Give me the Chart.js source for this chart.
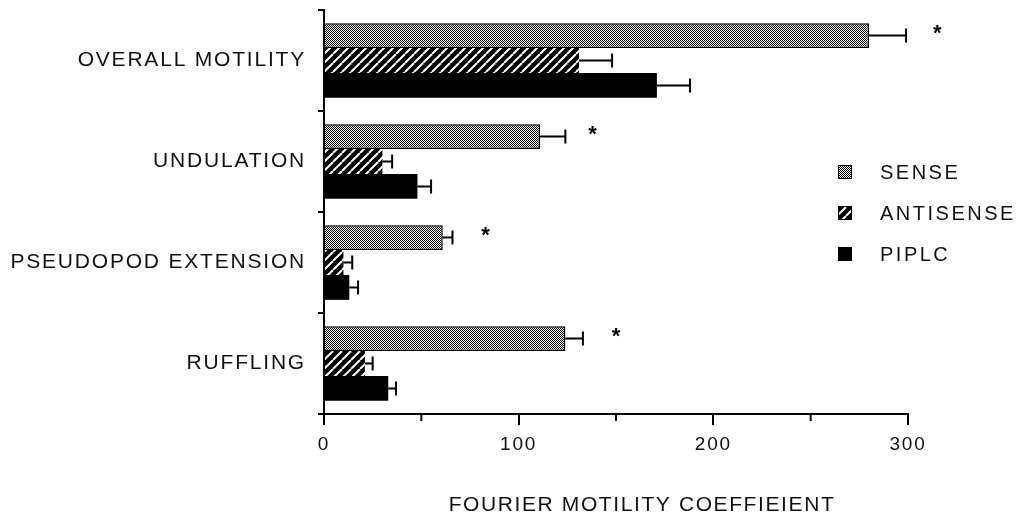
<!DOCTYPE html>
<html>
<head>
<meta charset="utf-8">
<script src="https://cdn.jsdelivr.net/npm/chart.js@4.4.0/dist/chart.umd.min.js"></script>
<style>
  html, body { margin: 0; padding: 0; background: #fff; }
  canvas { display: block; }
</style>
</head>
<body>
<canvas id="motility-chart" width="1016" height="517"></canvas>
<script>
const categories = ['OVERALL MOTILITY', 'UNDULATION', 'PSEUDOPOD EXTENSION', 'RUFFLING'];
const seriesNames = ['SENSE', 'ANTISENSE', 'PIPLC'];
const senseValues = [280, 111, 61, 124];
const senseErrors = [19, 13, 5, 9];
const antisenseValues = [131, 30, 10, 21];
const antisenseErrors = [17, 5, 4.5, 4];
const piplcValues = [171, 48, 13, 33];
const piplcErrors = [17, 7, 4.5, 4];
// x positions of the significance marks
const significanceX = [315, 138, 83, 150];
const minorTicks = [50, 150, 250];
const axisTitle = 'FOURIER MOTILITY COEFFIEIENT';

const canvas = document.getElementById('motility-chart');
const ctx = canvas.getContext('2d');

function stipplePattern() {
    const c = document.createElement('canvas');
    c.width = 2; c.height = 2;
    const g = c.getContext('2d');
    g.fillStyle = '#fff'; g.fillRect(0, 0, 2, 2);
    g.fillStyle = '#000';
    g.fillRect(0, 0, 1, 1);
    g.fillRect(1, 1, 1, 1);
    return ctx.createPattern(c, 'repeat');
}

function hatchPattern() {
    const s = 9;
    const c = document.createElement('canvas');
    c.width = s; c.height = s;
    const g = c.getContext('2d');
    g.fillStyle = '#000'; g.fillRect(0, 0, s, s);
    g.strokeStyle = '#fff'; g.lineWidth = 2;
    [-s, 0, s].forEach(k => {
        g.beginPath(); g.moveTo(k, s); g.lineTo(k + s, 0); g.stroke();
    });
    return ctx.createPattern(c, 'repeat');
}

const fills = [stipplePattern(), hatchPattern(), '#000'];

const overlay = {
    id: 'overlay',
    beforeDraw(chart) {
        chart.ctx.letterSpacing = '1.8px';
    },
    afterDatasetsDraw(chart) {
        const c = chart.ctx;
        const x = chart.scales.x;
        c.save();
        c.strokeStyle = '#000';
        c.lineWidth = 2;
        // error bars (positive side only)
        chart.data.datasets.forEach((ds, di) => {
            chart.getDatasetMeta(di).data.forEach((bar, i) => {
                const x0 = x.getPixelForValue(ds.data[i]);
                const x1 = x.getPixelForValue(ds.data[i] + ds.errors[i]);
                const cap = bar.height * 0.28;
                c.beginPath();
                c.moveTo(x0, bar.y); c.lineTo(x1, bar.y);
                c.moveTo(x1, bar.y - cap); c.lineTo(x1, bar.y + cap);
                c.stroke();
            });
        });
        // significance marks next to the SENSE bars
        c.fillStyle = '#000';
        c.font = 'bold 22px "Liberation Sans", Arial, sans-serif';
        c.textAlign = 'center';
        c.textBaseline = 'top';
        c.letterSpacing = '0px';
        chart.getDatasetMeta(0).data.forEach((bar, i) => {
            c.fillText('*', x.getPixelForValue(significanceX[i]), bar.y - bar.height / 2);
        });
        c.restore();
    },
    afterDraw(chart) {
        const c = chart.ctx;
        const x = chart.scales.x;
        const area = chart.chartArea;
        c.save();
        // minor ticks on the x axis
        c.strokeStyle = '#000';
        c.lineWidth = 2;
        minorTicks.forEach(v => {
            const px = x.getPixelForValue(v);
            c.beginPath(); c.moveTo(px, area.bottom); c.lineTo(px, area.bottom + 7); c.stroke();
        });
        // legend
        c.font = '20px "Liberation Sans", Arial, sans-serif';
        c.letterSpacing = '2.5px';
        c.textBaseline = 'middle';
        c.textAlign = 'left';
        c.lineWidth = 1;
        chart.data.datasets.forEach((ds, i) => {
            const cy = 172 + i * 41;
            c.fillStyle = ds.backgroundColor;
            c.fillRect(838, cy - 7, 14, 14);
            c.strokeStyle = '#000';
            c.strokeRect(838.5, cy - 6.5, 13, 13);
            c.fillStyle = '#111';
            c.fillText(ds.label, 880, cy + 1);
        });
        // axis title
        c.font = '21px "Liberation Sans", Arial, sans-serif';
        c.letterSpacing = '1.6px';
        c.textAlign = 'center';
        c.fillText(axisTitle, (area.left + area.right) / 2 + 26, 505);
        c.restore();
    }
};

const valueSets = [senseValues, antisenseValues, piplcValues];
const errorSets = [senseErrors, antisenseErrors, piplcErrors];

new Chart(ctx, {
    type: 'bar',
    data: {
        labels: categories,
        datasets: seriesNames.map((name, i) => ({
            label: name,
            data: valueSets[i],
            errors: errorSets[i],
            backgroundColor: fills[i],
            borderColor: '#000',
            borderWidth: i === 0 ? 1.5 : 0,
            borderSkipped: 'start',
            barPercentage: 1.0,
            categoryPercentage: 0.74
        }))
    },
    options: {
        indexAxis: 'y',
        responsive: false,
        animation: false,
        devicePixelRatio: 1,
        layout: { padding: { top: 10, right: 108, left: 0, bottom: 0 } },
        plugins: {
            legend: { display: false },
            tooltip: { enabled: false }
        },
        scales: {
            x: {
                type: 'linear',
                min: 0,
                max: 300,
                afterFit: scale => {
                    scale.height = 103;
                    scale.paddingLeft = 0;
                    scale.paddingRight = 0;
                },
                ticks: {
                    stepSize: 100,
                    padding: 8,
                    color: '#111',
                    font: { family: '"Liberation Sans", Arial, sans-serif', size: 19 }
                },
                grid: {
                    drawOnChartArea: false,
                    tickLength: 11,
                    color: '#000',
                    lineWidth: 2
                },
                border: { display: true, color: '#000', width: 2 }
            },
            y: {
                type: 'category',
                afterFit: scale => {
                    scale.width = 324;
                    scale.paddingTop = 0;
                    scale.paddingBottom = 0;
                },
                ticks: {
                    autoSkip: false,
                    padding: 12,
                    color: '#111',
                    font: { family: '"Liberation Sans", Arial, sans-serif', size: 21 }
                },
                grid: {
                    offset: true,
                    drawOnChartArea: false,
                    tickLength: 6,
                    color: '#000',
                    lineWidth: 2
                },
                border: { display: true, color: '#000', width: 2 }
            }
        }
    },
    plugins: [overlay]
});
</script>
</body>
</html>
